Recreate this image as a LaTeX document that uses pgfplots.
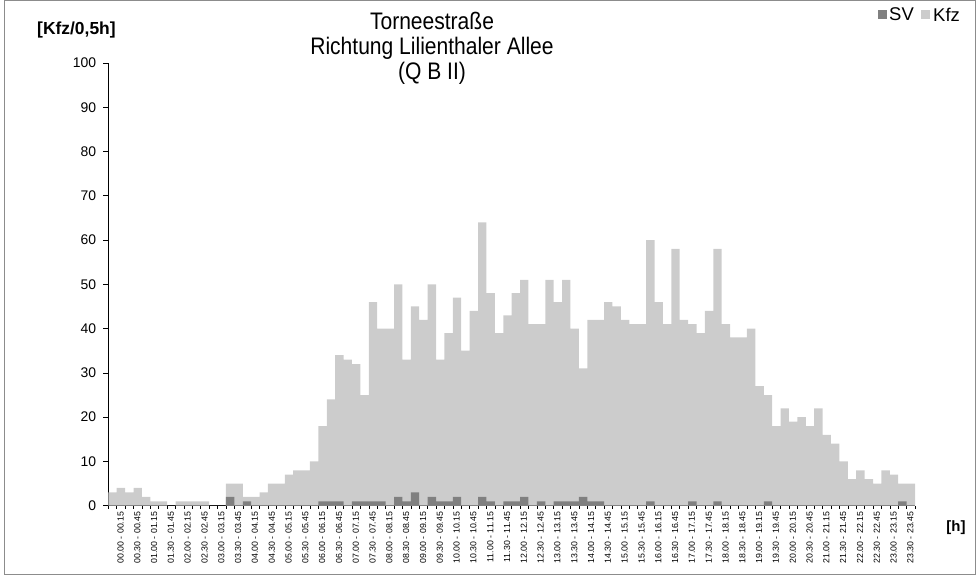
\documentclass[border=0pt]{standalone}
\usepackage{pgfplots}
\pgfplotsset{compat=1.18}
\usepackage{pgfplotstable}
\usepackage{fontspec}
\setmainfont{Liberation Sans}
\newfontfamily\narrowfont{Liberation Sans}[FakeStretch=0.88]
\definecolor{kfzc}{RGB}{204,204,204}
\definecolor{svc}{RGB}{128,128,128}
\definecolor{framec}{RGB}{140,140,140}
\pgfplotstableread{
x y
1 3
2 4
3 3
4 4
5 2
6 1
7 1
8 0
9 1
10 1
11 1
12 1
13 0
14 0
15 5
16 5
17 2
18 2
19 3
20 5
21 5
22 7
23 8
24 8
25 10
26 18
27 24
28 34
29 33
30 32
31 25
32 46
33 40
34 40
35 50
36 33
37 45
38 42
39 50
40 33
41 39
42 47
43 35
44 44
45 64
46 48
47 39
48 43
49 48
50 51
51 41
52 41
53 51
54 46
55 51
56 40
57 31
58 42
59 42
60 46
61 45
62 42
63 41
64 41
65 60
66 46
67 41
68 58
69 42
70 41
71 39
72 44
73 58
74 41
75 38
76 38
77 40
78 27
79 25
80 18
81 22
82 19
83 20
84 18
85 22
86 16
87 14
88 10
89 6
90 8
91 6
92 5
93 8
94 7
95 5
96 5
}\kfzdata
\pgfplotstableread{
x y
15 2
17 1
26 1
27 1
28 1
30 1
31 1
32 1
33 1
35 2
36 1
37 3
39 2
40 1
41 1
42 2
45 2
46 1
48 1
49 1
50 2
52 1
54 1
55 1
56 1
57 2
58 1
59 1
65 1
70 1
73 1
79 1
95 1
}\svdata
\begin{document}
\begin{tikzpicture}[x=1bp,y=1bp]
\useasboundingbox (0,0) rectangle (976,575);
\draw[framec, line width=0.8bp] (4.5,0.5) rectangle (975.5,574.5);
\begin{axis}[
  at={(108.3bp,69.3bp)}, anchor=south west,
  scale only axis, width=806.7bp, height=442.7bp,
  xmin=0.5, xmax=96.5, ymin=0, ymax=100,
  axis lines*=left,
  x axis line style={line width=1.6bp},
  y axis line style={line width=0.8bp},
  ytick={0,10,...,100},
  xtick={1,3,...,95},
  xticklabels={00.00 - 00.15,00.30 - 00.45,01.00 - 01.15,01.30 - 01.45,02.00 - 02.15,02.30 - 02.45,03.00 - 03.15,03.30 - 03.45,04.00 - 04.15,04.30 - 04.45,05.00 - 05.15,05.30 - 05.45,06.00 - 06.15,06.30 - 06.45,07.00 - 07.15,07.30 - 07.45,08.00 - 08.15,08.30 - 08.45,09.00 - 09.15,09.30 - 09.45,10.00 - 10.15,10.30 - 10.45,11.00 - 11.15,11.30 - 11.45,12.00 - 12.15,12.30 - 12.45,13.00 - 13.15,13.30 - 13.45,14.00 - 14.15,14.30 - 14.45,15.00 - 15.15,15.30 - 15.45,16.00 - 16.15,16.30 - 16.45,17.00 - 17.15,17.30 - 17.45,18.00 - 18.15,18.30 - 18.45,19.00 - 19.15,19.30 - 19.45,20.00 - 20.15,20.30 - 20.45,21.00 - 21.15,21.30 - 21.45,22.00 - 22.15,22.30 - 22.45,23.00 - 23.15,23.30 - 23.45},
  minor xtick={0.5,1.5,...,96.5},
  tick align=outside,
  x tick style={draw=none},
  minor x tick style={draw=black, line width=0.5bp},
  minor tick length=3bp,
  y tick style={black, line width=0.6bp},
  major tick length=5bp,
  xticklabel style={rotate=90, anchor=east, font=\fontsize{8.8}{10}\selectfont, inner sep=1bp, yshift=-8bp},
  yticklabel style={font=\fontsize{14}{16}\selectfont, inner sep=0pt, xshift=-7bp},
  /pgf/number format/assume math mode=true,
  axis on top=false,
  clip=false,
]
\addplot[ybar, bar width=1, bar shift=0pt, fill=kfzc, draw=none] table[x=x,y=y] {\kfzdata};
\addplot[ybar, bar width=1, bar shift=0pt, fill=svc, draw=none] table[x=x,y=y] {\svdata};
\end{axis}
\node[align=center, font=\narrowfont\fontsize{24}{25}\selectfont] at (432,527) {Torneestraße\\Richtung Lilienthaler Allee\\(Q B II)};
\node[anchor=west, font=\bfseries\fontsize{17.5}{19}\selectfont, inner sep=0pt] at (37,545) {[Kfz/0,5h]};
\node[font=\bfseries\fontsize{15}{17}\selectfont, inner sep=0pt] at (956,47) {[h]};
\fill[svc] (878,556) rectangle (887,565);
\node[anchor=west, font=\fontsize{18.5}{21}\selectfont, inner sep=0pt] at (889,560.5) {SV};
\fill[kfzc] (921,556) rectangle (930,565);
\node[anchor=west, font=\fontsize{18.5}{21}\selectfont, inner sep=0pt] at (933,560.5) {Kfz};
\end{tikzpicture}
\end{document}
